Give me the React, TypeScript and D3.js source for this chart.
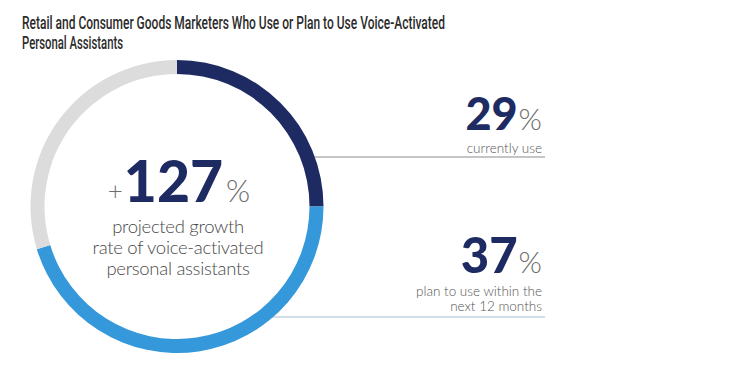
import React from "react";
import * as d3 from "d3";

const titleLines = [
  "Retail and Consumer Goods Marketers Who Use or Plan to Use Voice-Activated",
  "Personal Assistants",
];
const ringSegments = ["currently use", "plan to use", "remaining"];
const ringShares = [25, 45.3, 29.7];
const ringColors = ["#1e2b63", "#3598db", "#dcdcdc"];
const growthValue = "127";
const growthLines = ["projected growth", "rate of voice-activated", "personal assistants"];
const statValues = ["29", "37"];
const statLabels = [["currently use"], ["plan to use within the", "next 12 months"]];
const statLineY = [157, 317];
const statLineColors = ["#8c8c8c", "#a3bccf"];

const W = 750;
const H = 367;
const cx = 177;
const cy = 206.5;
const rOut = 146.5;
const rIn = 132.5;
const rightX = 542;
const lineEnd = 545;
const navy = "#1e2b63";
const grey = "#6d6d6d";

export default function App() {
  const pie = d3
    .pie<number>()
    .sort(null)
    .startAngle(0)
    .endAngle(2 * Math.PI)
    .value((d) => d);
  const arcs = pie(ringShares);
  const arc = d3.arc<d3.PieArcDatum<number>>().innerRadius(rIn).outerRadius(rOut);

  const statBase = [129.5, 273];
  const statSize = [45, 49];
  const labelBase = [153, 296];

  return (
    <svg
      width={W}
      height={H}
      style={{ position: "absolute", left: 0, top: 0, background: "#fff" }}
    >
      <rect width={W} height={H} fill="#fff" />
      {titleLines.map((t, i) => (
        <text
          key={i}
          x={22}
          y={29 + i * 20}
          fontFamily="Roboto, sans-serif"
          fontWeight={500}
          fontSize={18}
          fill="#2b2b2b"
          textLength={i === 0 ? 423 : 101}
          lengthAdjust="spacingAndGlyphs"
        >
          {t}
        </text>
      ))}

      {statLineY.map((y, i) => {
        const dy = y - cy;
        const x0 = cx + Math.sqrt(rOut * rOut - dy * dy) - 4;
        return (
          <line
            key={i}
            x1={x0}
            x2={lineEnd}
            y1={y}
            y2={y}
            stroke={statLineColors[i]}
            strokeWidth={1.2}
          />
        );
      })}

      <g transform={`translate(${cx},${cy})`}>
        {arcs.map((a, i) => (
          <path key={ringSegments[i]} d={arc(a) || ""} fill={ringColors[i]} />
        ))}
      </g>

      <text x={cx + 2} y={202} textAnchor="middle" fontFamily="Lato, sans-serif">
        <tspan fontSize={26} fontWeight={300} fill={grey} dy={-2}>+</tspan>
        <tspan fontSize={57} fontWeight={900} fill={navy} dy={2} dx={1}>{growthValue}</tspan>
        <tspan fontSize={31} fontWeight={300} fill={grey} dx={3}>%</tspan>
      </text>
      {growthLines.map((t, i) => (
        <text
          key={i}
          x={cx + 1}
          y={233 + i * 21}
          textAnchor="middle"
          fontFamily="Lato, sans-serif"
          fontWeight={300}
          fontSize={18.5}
          letterSpacing={-0.3}
          fill="#4a4a4a"
        >
          {t}
        </text>
      ))}

      {statValues.map((v, i) => (
        <g key={v}>
          <text x={rightX} y={statBase[i]} textAnchor="end" fontFamily="Lato, sans-serif">
            <tspan fontSize={statSize[i]} fontWeight={900} fill={navy}>{v}</tspan>
            <tspan fontSize={30} fontWeight={300} fill={grey} dx={1}>%</tspan>
          </text>
          {statLabels[i].map((l, j) => (
            <text
              key={j}
              x={rightX}
              y={labelBase[i] + j * 15}
              textAnchor="end"
              fontFamily="Lato, sans-serif"
              fontWeight={300}
              fontSize={13.5}
              fill="#555"
            >
              {l}
            </text>
          ))}
        </g>
      ))}
    </svg>
  );
}
